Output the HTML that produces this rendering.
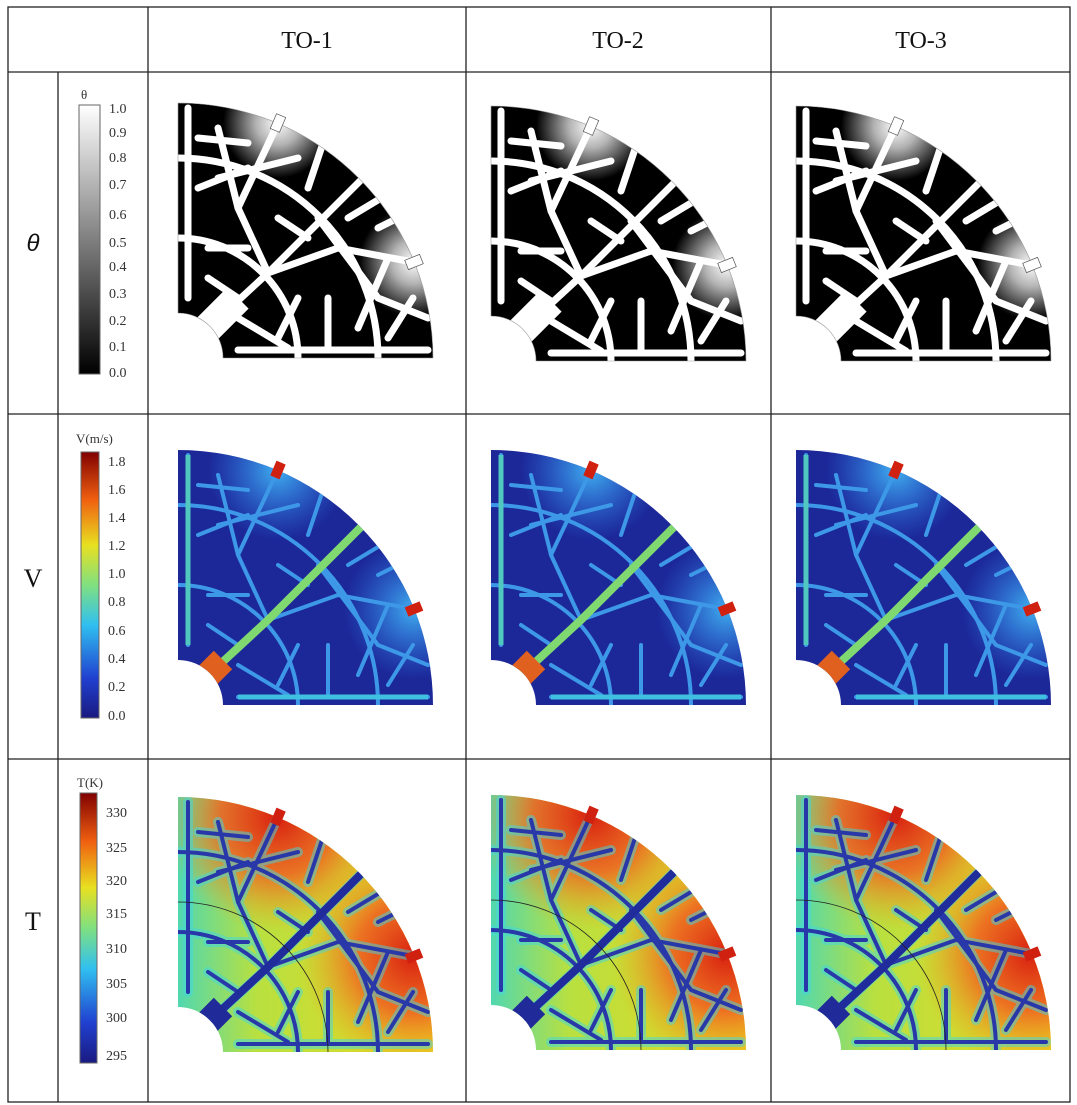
<!DOCTYPE html>
<html><head><meta charset="utf-8"><style>
body{margin:0;background:#fff;width:1077px;height:1105px;position:relative;overflow:hidden;font-family:"Liberation Serif",serif;}
</style></head><body>
<svg width="1077" height="1105" style="position:absolute;left:0;top:0">
<defs>
<clipPath id="q"><path d="M45,0 L255,0 A255 255 0 0 0 0,-255 L0,-45 A45 45 0 0 1 45,0 Z"/></clipPath>
<g id="net" fill="none" stroke-linecap="round" stroke-linejoin="round">
<path d="M25,-25 L90,-85 L185,-180 L230,-220"/>
<path d="M90,-85 L60,-150 L40,-230"/>
<path d="M90,-85 L160,-110 L235,-96"/>
<path d="M60,-150 L100,-235"/>
<path d="M140,-140 L200,-60 L250,-40"/>
<path d="M10,-60 L10,-250"/><path d="M60,-8 L250,-8"/>
<path d="M40,-180 L120,-200"/><path d="M150,-60 L150,-8"/><path d="M200,-130 L240,-150"/>
<path d="M0,-200 A200 200 0 0 1 200,0"/><path d="M0,-120 A120 120 0 0 1 120,0"/>
<path d="M120,-60 L100,-20"/><path d="M180,-30 L210,-100"/><path d="M30,-110 L70,-110"/><path d="M20,-170 L70,-190"/>
<path d="M130,-170 L150,-230"/><path d="M220,-170 L170,-140"/><path d="M60,-40 L110,-10"/>
<path d="M30,-80 L60,-60"/><path d="M210,-20 L235,-60"/><path d="M100,-140 L130,-120"/><path d="M20,-220 L70,-215"/>
</g>
<radialGradient id="wf"><stop offset="0" stop-color="#fff"/><stop offset=".4" stop-color="#fff" stop-opacity=".7"/><stop offset="1" stop-color="#fff" stop-opacity="0"/></radialGradient>
<radialGradient id="bf"><stop offset="0" stop-color="#40b0f0"/><stop offset="1" stop-color="#3080f0" stop-opacity="0"/></radialGradient>
<radialGradient id="rf"><stop offset="0" stop-color="#d82010"/><stop offset=".5" stop-color="#f06020" stop-opacity=".85"/><stop offset="1" stop-color="#f0a020" stop-opacity="0"/></radialGradient>
<linearGradient id="tb" x1="0" y1="0" x2="1" y2="0"><stop offset="0" stop-color="#50d8b0"/><stop offset=".3" stop-color="#b8e040"/><stop offset="1" stop-color="#e8d820"/></linearGradient>
<g id="ob">
<rect x="-5" y="-8" width="10" height="16" transform="translate(100,-235) rotate(23)"/>
<rect x="-5" y="-8" width="10" height="16" transform="translate(236,-96) rotate(68)"/>
</g>
<g id="th"><g clip-path="url(#q)"><rect x="0" y="-260" width="260" height="260" fill="#000"/>
<circle cx="100" cy="-235" r="55" fill="url(#wf)"/><circle cx="236" cy="-96" r="55" fill="url(#wf)"/>
<use href="#net" stroke="#fff" stroke-width="7"/>
<path d="M20,-20 L60,-60" stroke="#fff" stroke-width="30"/></g>
<path d="M45,0 L255,0 A255 255 0 0 0 0,-255 L0,-45 A45 45 0 0 1 45,0 Z" fill="none" stroke="#999" stroke-width=".6"/>
<use href="#ob" fill="#fff" stroke="#555" stroke-width=".7"/></g>
<g id="ve"><g clip-path="url(#q)"><rect x="0" y="-260" width="260" height="260" fill="#1c2898"/>
<circle cx="100" cy="-235" r="70" fill="url(#bf)"/><circle cx="236" cy="-96" r="70" fill="url(#bf)"/>
<use href="#net" stroke="#3d98e8" stroke-width="4"/>
<path d="M25,-25 L90,-85 L185,-180" stroke="#80d870" stroke-width="8" fill="none"/>
<path d="M60,-8 L250,-8" stroke="#40c0e0" stroke-width="5"/><path d="M10,-60 L10,-250" stroke="#50c8c0" stroke-width="5"/>
<path d="M20,-20 L45,-45" stroke="#e06020" stroke-width="26"/></g>
<use href="#ob" fill="#d02010"/></g>
<g id="te"><g clip-path="url(#q)"><rect x="0" y="-260" width="260" height="260" fill="url(#tb)"/>
<circle cx="100" cy="-235" r="115" fill="url(#rf)"/><circle cx="236" cy="-96" r="115" fill="url(#rf)"/>
<use href="#net" stroke="#40d8e0" stroke-width="10" opacity=".5"/>
<use href="#net" stroke="#2838a8" stroke-width="4"/>
<path d="M25,-25 L90,-85 L185,-180" stroke="#202c9c" stroke-width="8" fill="none"/>
<path d="M20,-20 L45,-45" stroke="#202a98" stroke-width="26"/>
<path d="M0,-150 A150 150 0 0 1 150,0" fill="none" stroke="#222" stroke-width=".8"/></g>
<use href="#ob" fill="#d02010"/></g>
<linearGradient id="gth" x1="0" y1="0" x2="0" y2="1"><stop offset="0" stop-color="#fff"/><stop offset="1" stop-color="#000"/></linearGradient>
<linearGradient id="gj" x1="0" y1="1" x2="0" y2="0"><stop offset="0" stop-color="#1a1a80"/><stop offset=".15" stop-color="#2040d0"/><stop offset=".35" stop-color="#30c0f0"/><stop offset=".5" stop-color="#80e080"/><stop offset=".65" stop-color="#e8e020"/><stop offset=".82" stop-color="#f06010"/><stop offset="1" stop-color="#800000"/></linearGradient>
</defs>
<g stroke="#222" stroke-width="1.3" fill="none">
<rect x="8" y="7" width="1062" height="1095"/>
<line x1="148" y1="7" x2="148" y2="1102"/><line x1="466" y1="7" x2="466" y2="1102"/><line x1="771" y1="7" x2="771" y2="1102"/>
<line x1="58" y1="72" x2="58" y2="1102"/>
<line x1="8" y1="72" x2="1070" y2="72"/><line x1="8" y1="414" x2="1070" y2="414"/><line x1="8" y1="759" x2="1070" y2="759"/>
</g>
<use href="#th" transform="translate(178,358)"/><use href="#th" transform="translate(491,361)"/><use href="#th" transform="translate(796,361)"/>
<use href="#ve" transform="translate(178,705)"/><use href="#ve" transform="translate(491,705)"/><use href="#ve" transform="translate(796,705)"/>
<use href="#te" transform="translate(178,1052)"/><use href="#te" transform="translate(491,1050)"/><use href="#te" transform="translate(796,1050)"/>
<rect x="79" y="105" width="21" height="269" fill="url(#gth)" stroke="#666"/>
<rect x="81" y="452" width="18" height="266" fill="url(#gj)" stroke="#666"/>
<rect x="80" y="793" width="17" height="270" fill="url(#gj)" stroke="#666"/>
<g font-family="Liberation Serif,serif" font-size="14" fill="#333">
<text x="81" y="99" font-size="13">θ</text>
<text x="109" y="113">1.0</text><text x="109" y="137">0.9</text><text x="109" y="162">0.8</text><text x="109" y="189">0.7</text><text x="109" y="219">0.6</text><text x="109" y="247">0.5</text><text x="109" y="271">0.4</text><text x="109" y="298">0.3</text><text x="109" y="325">0.2</text><text x="109" y="351">0.1</text><text x="109" y="377">0.0</text>
<text x="76" y="443" font-size="13">V(m/s)</text>
<text x="108" y="466">1.8</text><text x="108" y="494">1.6</text><text x="108" y="522">1.4</text><text x="108" y="550">1.2</text><text x="108" y="578">1.0</text><text x="108" y="606">0.8</text><text x="108" y="635">0.6</text><text x="108" y="663">0.4</text><text x="108" y="691">0.2</text><text x="108" y="720">0.0</text>
<text x="77" y="787" font-size="13">T(K)</text>
<text x="106" y="817">330</text><text x="106" y="852">325</text><text x="106" y="885">320</text><text x="106" y="918">315</text><text x="106" y="953">310</text><text x="106" y="988">305</text><text x="106" y="1022">300</text><text x="106" y="1060">295</text>
</g>
<g font-family="Liberation Serif,serif" font-size="24" fill="#111" text-anchor="middle">
<text x="307" y="48">TO-1</text><text x="618" y="48">TO-2</text><text x="921" y="48">TO-3</text>
<text x="33" y="587" font-size="26">V</text><text x="33" y="930" font-size="26">T</text>
<text x="33" y="251" font-size="24" font-style="italic" font-family="Liberation Sans,sans-serif">θ</text>
</g>
</svg>
</body></html>
